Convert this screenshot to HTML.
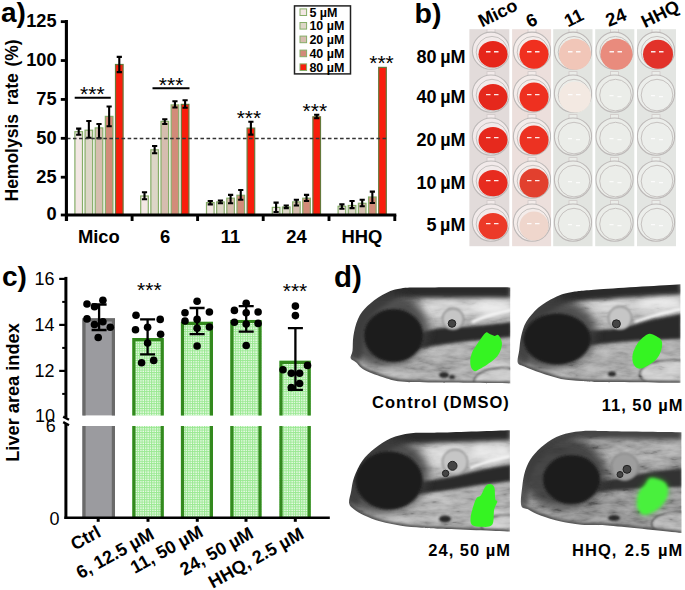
<!DOCTYPE html>
<html><head><meta charset="utf-8"><style>
html,body{margin:0;padding:0;background:#fff;}
svg{display:block;}
text{font-family:"Liberation Sans", sans-serif;}
</style></head><body>
<svg width="685" height="590" viewBox="0 0 685 590" font-family='"Liberation Sans", sans-serif'>
<defs>
<pattern id="grid" width="2.4" height="2.4" patternUnits="userSpaceOnUse">
<rect width="2.4" height="2.4" fill="#f0fcee"/>
<path d="M0 0.5H2.4M0.5 0V2.4" stroke="#98e890" stroke-width="1"/>
</pattern>
<filter id="blur1" x="-20%" y="-20%" width="140%" height="140%"><feGaussianBlur stdDeviation="1.5"/></filter>
<filter id="noise" x="0" y="0" width="100%" height="100%" filterUnits="objectBoundingBox">
<feTurbulence type="fractalNoise" baseFrequency="0.06 0.18" numOctaves="3" seed="7"/>
<feColorMatrix type="saturate" values="0"/>
<feComponentTransfer><feFuncR type="linear" slope="2.2" intercept="-0.6"/><feFuncG type="linear" slope="2.2" intercept="-0.6"/><feFuncB type="linear" slope="2.2" intercept="-0.6"/><feFuncA type="linear" slope="0" intercept="1"/></feComponentTransfer>
</filter>
<filter id="bl05" x="-20%" y="-20%" width="140%" height="140%"><feGaussianBlur stdDeviation="0.5"/></filter>
<filter id="bl1" x="-30%" y="-30%" width="160%" height="160%"><feGaussianBlur stdDeviation="1"/></filter>
<filter id="bl15" x="-30%" y="-30%" width="160%" height="160%"><feGaussianBlur stdDeviation="1.5"/></filter>
<filter id="bl2" x="-30%" y="-30%" width="160%" height="160%"><feGaussianBlur stdDeviation="2"/></filter>
<filter id="bl3" x="-40%" y="-40%" width="180%" height="180%"><feGaussianBlur stdDeviation="3"/></filter>
<filter id="bl4" x="-40%" y="-40%" width="180%" height="180%"><feGaussianBlur stdDeviation="4"/></filter>
</defs>
<text x="1" y="22.3" font-size="28" font-weight="bold" text-anchor="start" fill="#000" >a)</text>
<text transform="translate(17.6,201.5) rotate(-90)" font-size="17.5" font-weight="bold">Hemolysis<tspan dx="3.8"> rate</tspan><tspan dx="1.8"> (%)</tspan></text>
<rect x="74.90" y="131.70" width="7.60" height="83.30" fill="#f3e7e4" stroke="#86ad68" stroke-width="1.2"/>
<path d="M78.70 128.60V134.70M76.10 128.60H81.30M76.10 134.70H81.30" stroke="#000" stroke-width="2.1" fill="none"/>
<rect x="85.05" y="130.20" width="7.60" height="84.80" fill="#ddd6c7" stroke="#86ad68" stroke-width="1.2"/>
<path d="M88.85 121.00V137.80M86.25 121.00H91.45M86.25 137.80H91.45" stroke="#000" stroke-width="2.1" fill="none"/>
<rect x="95.20" y="127.90" width="7.60" height="87.10" fill="#d6bdaf" stroke="#86ad68" stroke-width="1.2"/>
<path d="M99.00 124.00V138.20M96.40 124.00H101.60M96.40 138.20H101.60" stroke="#000" stroke-width="2.1" fill="none"/>
<rect x="105.35" y="116.40" width="7.60" height="98.60" fill="#d28b79" stroke="#86ad68" stroke-width="1.2"/>
<path d="M109.15 106.50V126.30M106.55 106.50H111.75M106.55 126.30H111.75" stroke="#000" stroke-width="2.1" fill="none"/>
<rect x="115.50" y="64.50" width="7.60" height="150.50" fill="#f81e0c" stroke="#65793c" stroke-width="1.2"/>
<path d="M119.30 56.90V72.10M116.70 56.90H121.90M116.70 72.10H121.90" stroke="#000" stroke-width="2.1" fill="none"/>
<rect x="140.70" y="196.00" width="7.60" height="19.00" fill="#f3e7e4" stroke="#86ad68" stroke-width="1.2"/>
<path d="M144.50 192.20V199.30M141.90 192.20H147.10M141.90 199.30H147.10" stroke="#000" stroke-width="2.1" fill="none"/>
<rect x="150.85" y="149.80" width="7.60" height="65.20" fill="#ddd6c7" stroke="#86ad68" stroke-width="1.2"/>
<path d="M154.65 146.00V153.20M152.05 146.00H157.25M152.05 153.20H157.25" stroke="#000" stroke-width="2.1" fill="none"/>
<rect x="161.00" y="121.40" width="7.60" height="93.60" fill="#d6bdaf" stroke="#86ad68" stroke-width="1.2"/>
<path d="M164.80 119.30V124.00M162.20 119.30H167.40M162.20 124.00H167.40" stroke="#000" stroke-width="2.1" fill="none"/>
<rect x="171.15" y="104.90" width="7.60" height="110.10" fill="#d28b79" stroke="#86ad68" stroke-width="1.2"/>
<path d="M174.95 101.20V107.50M172.35 101.20H177.55M172.35 107.50H177.55" stroke="#000" stroke-width="2.1" fill="none"/>
<rect x="181.30" y="104.40" width="7.60" height="110.60" fill="#f81e0c" stroke="#65793c" stroke-width="1.2"/>
<path d="M185.10 100.20V107.80M182.50 100.20H187.70M182.50 107.80H187.70" stroke="#000" stroke-width="2.1" fill="none"/>
<rect x="206.50" y="202.60" width="7.60" height="12.40" fill="#f3e7e4" stroke="#86ad68" stroke-width="1.2"/>
<path d="M210.30 201.00V204.40M207.70 201.00H212.90M207.70 204.40H212.90" stroke="#000" stroke-width="2.1" fill="none"/>
<rect x="216.65" y="201.90" width="7.60" height="13.10" fill="#ddd6c7" stroke="#86ad68" stroke-width="1.2"/>
<path d="M220.45 200.50V203.30M217.85 200.50H223.05M217.85 203.30H223.05" stroke="#000" stroke-width="2.1" fill="none"/>
<rect x="226.80" y="198.20" width="7.60" height="16.80" fill="#d6bdaf" stroke="#86ad68" stroke-width="1.2"/>
<path d="M230.60 194.90V203.30M228.00 194.90H233.20M228.00 203.30H233.20" stroke="#000" stroke-width="2.1" fill="none"/>
<rect x="236.95" y="195.30" width="7.60" height="19.70" fill="#d28b79" stroke="#86ad68" stroke-width="1.2"/>
<path d="M240.75 190.00V199.70M238.15 190.00H243.35M238.15 199.70H243.35" stroke="#000" stroke-width="2.1" fill="none"/>
<rect x="247.10" y="128.10" width="7.60" height="86.90" fill="#f81e0c" stroke="#65793c" stroke-width="1.2"/>
<path d="M250.90 121.70V134.60M248.30 121.70H253.50M248.30 134.60H253.50" stroke="#000" stroke-width="2.1" fill="none"/>
<rect x="272.30" y="207.40" width="7.60" height="7.60" fill="#f3e7e4" stroke="#86ad68" stroke-width="1.2"/>
<path d="M276.10 202.60V212.00M273.50 202.60H278.70M273.50 212.00H278.70" stroke="#000" stroke-width="2.1" fill="none"/>
<rect x="282.45" y="207.00" width="7.60" height="8.00" fill="#ddd6c7" stroke="#86ad68" stroke-width="1.2"/>
<path d="M286.25 205.50V208.10M283.65 205.50H288.85M283.65 208.10H288.85" stroke="#000" stroke-width="2.1" fill="none"/>
<rect x="292.60" y="201.90" width="7.60" height="13.10" fill="#d6bdaf" stroke="#86ad68" stroke-width="1.2"/>
<path d="M296.40 199.70V205.50M293.80 199.70H299.00M293.80 205.50H299.00" stroke="#000" stroke-width="2.1" fill="none"/>
<rect x="302.75" y="198.20" width="7.60" height="16.80" fill="#d28b79" stroke="#86ad68" stroke-width="1.2"/>
<path d="M306.55 194.90V201.00M303.95 194.90H309.15M303.95 201.00H309.15" stroke="#000" stroke-width="2.1" fill="none"/>
<rect x="312.90" y="116.80" width="7.60" height="98.20" fill="#f81e0c" stroke="#65793c" stroke-width="1.2"/>
<path d="M316.70 114.70V118.20M314.10 114.70H319.30M314.10 118.20H319.30" stroke="#000" stroke-width="2.1" fill="none"/>
<rect x="338.10" y="206.30" width="7.60" height="8.70" fill="#f3e7e4" stroke="#86ad68" stroke-width="1.2"/>
<path d="M341.90 204.40V208.80M339.30 204.40H344.50M339.30 208.80H344.50" stroke="#000" stroke-width="2.1" fill="none"/>
<rect x="348.25" y="205.50" width="7.60" height="9.50" fill="#ddd6c7" stroke="#86ad68" stroke-width="1.2"/>
<path d="M352.05 201.00V208.10M349.45 201.00H354.65M349.45 208.10H354.65" stroke="#000" stroke-width="2.1" fill="none"/>
<rect x="358.40" y="203.30" width="7.60" height="11.70" fill="#d6bdaf" stroke="#86ad68" stroke-width="1.2"/>
<path d="M362.20 199.70V206.30M359.60 199.70H364.80M359.60 206.30H364.80" stroke="#000" stroke-width="2.1" fill="none"/>
<rect x="368.55" y="197.00" width="7.60" height="18.00" fill="#d28b79" stroke="#86ad68" stroke-width="1.2"/>
<path d="M372.35 191.60V203.00M369.75 191.60H374.95M369.75 203.00H374.95" stroke="#000" stroke-width="2.1" fill="none"/>
<rect x="378.70" y="67.40" width="7.60" height="147.60" fill="#f81e0c" stroke="#65793c" stroke-width="1.2"/>
<line x1="66.9" y1="138.5" x2="387" y2="138.5" stroke="#333" stroke-width="1.3" stroke-dasharray="3.6 2.47"/>
<path d="M66.4 20V221" stroke="#000" stroke-width="3.1"/>
<path d="M60.8 21.65H66.6" stroke="#000" stroke-width="2.8"/>
<text x="56.6" y="26.95" font-size="18.2" font-weight="bold" text-anchor="end" fill="#000" >125</text>
<path d="M60.8 60.54H66.6" stroke="#000" stroke-width="2.8"/>
<text x="56.6" y="65.84" font-size="18.2" font-weight="bold" text-anchor="end" fill="#000" >100</text>
<path d="M60.8 99.43H66.6" stroke="#000" stroke-width="2.8"/>
<text x="56.6" y="104.73" font-size="18.2" font-weight="bold" text-anchor="end" fill="#000" >75</text>
<path d="M60.8 138.32H66.6" stroke="#000" stroke-width="2.8"/>
<text x="56.6" y="143.62" font-size="18.2" font-weight="bold" text-anchor="end" fill="#000" >50</text>
<path d="M60.8 177.21H66.6" stroke="#000" stroke-width="2.8"/>
<text x="56.6" y="182.51" font-size="18.2" font-weight="bold" text-anchor="end" fill="#000" >25</text>
<path d="M60.8 215.00H66.6" stroke="#000" stroke-width="2.8"/>
<text x="56.6" y="220.30" font-size="18.2" font-weight="bold" text-anchor="end" fill="#000" >0</text>
<path d="M65 215H396.3" stroke="#000" stroke-width="2.9"/>
<path d="M66.6 215V221" stroke="#000" stroke-width="2.9"/>
<path d="M132.1 215V221" stroke="#000" stroke-width="2.9"/>
<path d="M197.6 215V221" stroke="#000" stroke-width="2.9"/>
<path d="M263.2 215V221" stroke="#000" stroke-width="2.9"/>
<path d="M329 215V221" stroke="#000" stroke-width="2.9"/>
<path d="M394.8 215V221" stroke="#000" stroke-width="2.9"/>
<text x="98.9" y="242.6" font-size="18.4" font-weight="bold" text-anchor="middle" fill="#000" >Mico</text>
<text x="165.2" y="242.6" font-size="18.4" font-weight="bold" text-anchor="middle" fill="#000" >6</text>
<text x="230.5" y="242.6" font-size="18.4" font-weight="bold" text-anchor="middle" fill="#000" >11</text>
<text x="296.4" y="242.6" font-size="18.4" font-weight="bold" text-anchor="middle" fill="#000" >24</text>
<text x="362" y="242.6" font-size="18.4" font-weight="bold" text-anchor="middle" fill="#000" >HHQ</text>
<path d="M74.7 97.7H110.8M152.5 88.2H189.5" stroke="#000" stroke-width="2.1"/>
<text x="92.3" y="101.3" font-size="21" font-weight="normal" text-anchor="middle" fill="#000" >***</text>
<text x="171.1" y="91.6" font-size="21" font-weight="normal" text-anchor="middle" fill="#000" >***</text>
<text x="248.9" y="125.0" font-size="21" font-weight="normal" text-anchor="middle" fill="#000" >***</text>
<text x="314.8" y="117.6" font-size="21" font-weight="normal" text-anchor="middle" fill="#000" >***</text>
<text x="381.5" y="70.3" font-size="21" font-weight="normal" text-anchor="middle" fill="#000" >***</text>
<rect x="294.5" y="5.9" width="56" height="68" fill="#fff" stroke="#222" stroke-width="1.5"/>
<rect x="300" y="8.9" width="6.6" height="6.6" fill="#f3e7e4" stroke="#86ad68" stroke-width="1"/>
<text x="309.4" y="16.7" font-size="12.5" font-weight="bold" text-anchor="start" fill="#000" >5 µM</text>
<rect x="300" y="22.5" width="6.6" height="6.6" fill="#ddd6c7" stroke="#86ad68" stroke-width="1"/>
<text x="309.4" y="30.3" font-size="12.5" font-weight="bold" text-anchor="start" fill="#000" >10 µM</text>
<rect x="300" y="36.1" width="6.6" height="6.6" fill="#d6bdaf" stroke="#86ad68" stroke-width="1"/>
<text x="309.4" y="43.9" font-size="12.5" font-weight="bold" text-anchor="start" fill="#000" >20 µM</text>
<rect x="300" y="50.1" width="6.6" height="6.6" fill="#d28b79" stroke="#86ad68" stroke-width="1"/>
<text x="309.4" y="57.9" font-size="12.5" font-weight="bold" text-anchor="start" fill="#000" >40 µM</text>
<rect x="300" y="63.9" width="6.6" height="6.6" fill="#f81e0c" stroke="#86ad68" stroke-width="1"/>
<text x="309.4" y="71.7" font-size="12.5" font-weight="bold" text-anchor="start" fill="#000" >80 µM</text>
<text x="414.5" y="23" font-size="28.5" font-weight="bold" text-anchor="start" fill="#000" >b)</text>
<text transform="translate(482.1,27.5) rotate(-26)" font-size="18" font-weight="bold">Mico</text>
<text transform="translate(529.8,28) rotate(-26)" font-size="18" font-weight="bold">6</text>
<text transform="translate(568,27.5) rotate(-26)" font-size="18" font-weight="bold">11</text>
<text transform="translate(608.7,27.1) rotate(-22)" font-size="18.5" font-weight="bold">24</text>
<text transform="translate(645,28.2) rotate(-26)" font-size="18" font-weight="bold">HHQ</text>
<text x="465.5" y="62.5" font-size="18" font-weight="bold" text-anchor="end" fill="#000" word-spacing="-1.5">80 µM</text>
<text x="465.5" y="102.5" font-size="18" font-weight="bold" text-anchor="end" fill="#000" word-spacing="-1.5">40 µM</text>
<text x="465.5" y="145.5" font-size="18" font-weight="bold" text-anchor="end" fill="#000" word-spacing="-1.5">20 µM</text>
<text x="465.5" y="188.7" font-size="18" font-weight="bold" text-anchor="end" fill="#000" word-spacing="-1.5">10 µM</text>
<text x="465.5" y="231.2" font-size="18" font-weight="bold" text-anchor="end" fill="#000" word-spacing="-1.5">5 µM</text>
<rect x="469.4" y="29.2" width="39.9" height="217" fill="#e2dbda"/>
<clipPath id="sc0"><rect x="469.4" y="29.2" width="39.9" height="217"/></clipPath>
<g clip-path="url(#sc0)">
<rect x="487" y="28.700000000000003" width="8" height="6" fill="#f2eaea" stroke="#cfc9c8" stroke-width="0.8"/>
<circle cx="491" cy="50.7" r="18.6" fill="#f2eaea" stroke="#bdb9b8" stroke-width="1.1"/>
<circle cx="492" cy="52.2" r="15.8" fill="none" stroke="#c6c2c0" stroke-width="1"/>
<ellipse cx="493.0" cy="54.2" rx="14.5" ry="13.2" fill="#e6261a"/>
<path d="M486.0 51.7h4.5M494.0 51.7h4.5" stroke="#fff" stroke-width="1.4" opacity="0.9"/>
<rect x="487" y="71.6" width="8" height="6" fill="#f2eaea" stroke="#cfc9c8" stroke-width="0.8"/>
<circle cx="491" cy="93.6" r="18.6" fill="#f2eaea" stroke="#bdb9b8" stroke-width="1.1"/>
<circle cx="492" cy="95.1" r="15.8" fill="none" stroke="#c6c2c0" stroke-width="1"/>
<ellipse cx="493.0" cy="97.1" rx="14.5" ry="13.2" fill="#e5281c"/>
<path d="M486.0 94.6h4.5M494.0 94.6h4.5" stroke="#fff" stroke-width="1.4" opacity="0.9"/>
<rect x="487" y="114.6" width="8" height="6" fill="#f2eaea" stroke="#cfc9c8" stroke-width="0.8"/>
<circle cx="491" cy="136.6" r="18.6" fill="#f2eaea" stroke="#bdb9b8" stroke-width="1.1"/>
<circle cx="492" cy="138.1" r="15.8" fill="none" stroke="#c6c2c0" stroke-width="1"/>
<ellipse cx="493.0" cy="140.1" rx="14.5" ry="13.2" fill="#e6291d"/>
<path d="M486.0 137.6h4.5M494.0 137.6h4.5" stroke="#fff" stroke-width="1.4" opacity="0.9"/>
<rect x="487" y="157.6" width="8" height="6" fill="#f2eaea" stroke="#cfc9c8" stroke-width="0.8"/>
<circle cx="491" cy="179.6" r="18.6" fill="#f2eaea" stroke="#bdb9b8" stroke-width="1.1"/>
<circle cx="492" cy="181.1" r="15.8" fill="none" stroke="#c6c2c0" stroke-width="1"/>
<ellipse cx="493.0" cy="183.1" rx="14.5" ry="13.2" fill="#e72b1f"/>
<path d="M486.0 180.6h4.5M494.0 180.6h4.5" stroke="#fff" stroke-width="1.4" opacity="0.9"/>
<rect x="487" y="200.6" width="8" height="6" fill="#f2eaea" stroke="#cfc9c8" stroke-width="0.8"/>
<circle cx="491" cy="222.6" r="18.6" fill="#f2eaea" stroke="#bdb9b8" stroke-width="1.1"/>
<circle cx="492" cy="224.1" r="15.8" fill="none" stroke="#c6c2c0" stroke-width="1"/>
<ellipse cx="493.0" cy="226.1" rx="14.5" ry="13.2" fill="#ec3a28"/>
<path d="M486.0 223.6h4.5M494.0 223.6h4.5" stroke="#fff" stroke-width="1.4" opacity="0.9"/>
</g>
<rect x="512.1" y="29.2" width="39.0" height="217" fill="#ecdfdc"/>
<clipPath id="sc1"><rect x="512.1" y="29.2" width="39.0" height="217"/></clipPath>
<g clip-path="url(#sc1)">
<rect x="528" y="28.700000000000003" width="8" height="6" fill="#f4ecea" stroke="#cfc9c8" stroke-width="0.8"/>
<circle cx="532" cy="50.7" r="18.6" fill="#f4ecea" stroke="#bdb9b8" stroke-width="1.1"/>
<circle cx="533" cy="52.2" r="15.8" fill="none" stroke="#c6c2c0" stroke-width="1"/>
<ellipse cx="534.0" cy="54.2" rx="14.5" ry="14.5" fill="#f0301f"/>
<path d="M527.0 51.7h4.5M535.0 51.7h4.5" stroke="#fff" stroke-width="1.4" opacity="0.9"/>
<rect x="528" y="71.6" width="8" height="6" fill="#f4ecea" stroke="#cfc9c8" stroke-width="0.8"/>
<circle cx="532" cy="93.6" r="18.6" fill="#f4ecea" stroke="#bdb9b8" stroke-width="1.1"/>
<circle cx="533" cy="95.1" r="15.8" fill="none" stroke="#c6c2c0" stroke-width="1"/>
<ellipse cx="534.0" cy="97.1" rx="14.5" ry="14.5" fill="#ee3020"/>
<path d="M527.0 94.6h4.5M535.0 94.6h4.5" stroke="#fff" stroke-width="1.4" opacity="0.9"/>
<rect x="528" y="114.6" width="8" height="6" fill="#f4ecea" stroke="#cfc9c8" stroke-width="0.8"/>
<circle cx="532" cy="136.6" r="18.6" fill="#f4ecea" stroke="#bdb9b8" stroke-width="1.1"/>
<circle cx="533" cy="138.1" r="15.8" fill="none" stroke="#c6c2c0" stroke-width="1"/>
<ellipse cx="534.0" cy="140.1" rx="14.5" ry="14.5" fill="#ec3222"/>
<path d="M527.0 137.6h4.5M535.0 137.6h4.5" stroke="#fff" stroke-width="1.4" opacity="0.9"/>
<rect x="528" y="157.6" width="8" height="6" fill="#f4ecea" stroke="#cfc9c8" stroke-width="0.8"/>
<circle cx="532" cy="179.6" r="18.6" fill="#f4ecea" stroke="#bdb9b8" stroke-width="1.1"/>
<circle cx="533" cy="181.1" r="15.8" fill="none" stroke="#c6c2c0" stroke-width="1"/>
<ellipse cx="534.0" cy="183.1" rx="14.5" ry="14.5" fill="#e2402e"/>
<path d="M527.0 180.6h4.5M535.0 180.6h4.5" stroke="#fff" stroke-width="1.4" opacity="0.9"/>
<rect x="528" y="200.6" width="8" height="6" fill="#f4ecea" stroke="#cfc9c8" stroke-width="0.8"/>
<circle cx="532" cy="222.6" r="18.6" fill="#f4ecea" stroke="#bdb9b8" stroke-width="1.1"/>
<circle cx="533" cy="224.1" r="15.8" fill="none" stroke="#c6c2c0" stroke-width="1"/>
<ellipse cx="534.0" cy="226.1" rx="14.5" ry="14.5" fill="#efd6cc"/>
<path d="M527.0 223.6h4.5M535.0 223.6h4.5" stroke="#fff" stroke-width="1.4" opacity="0.9"/>
</g>
<rect x="553.2" y="29.2" width="39.3" height="217" fill="#e2e4e0"/>
<clipPath id="sc2"><rect x="553.2" y="29.2" width="39.3" height="217"/></clipPath>
<g clip-path="url(#sc2)">
<rect x="569" y="28.700000000000003" width="8" height="6" fill="#ebede9" stroke="#cfc9c8" stroke-width="0.8"/>
<circle cx="573" cy="50.7" r="18.6" fill="#ebede9" stroke="#bdb9b8" stroke-width="1.1"/>
<circle cx="574" cy="52.2" r="15.8" fill="none" stroke="#c6c2c0" stroke-width="1"/>
<ellipse cx="575.0" cy="54.2" rx="16" ry="15.5" fill="#f1c6b8"/>
<path d="M568.0 51.7h4.5M576.0 51.7h4.5" stroke="#fff" stroke-width="1.4" opacity="0.9"/>
<rect x="569" y="71.6" width="8" height="6" fill="#ebede9" stroke="#cfc9c8" stroke-width="0.8"/>
<circle cx="573" cy="93.6" r="18.6" fill="#ebede9" stroke="#bdb9b8" stroke-width="1.1"/>
<circle cx="574" cy="95.1" r="15.8" fill="none" stroke="#c6c2c0" stroke-width="1"/>
<ellipse cx="575.0" cy="97.1" rx="16" ry="15.5" fill="#f3e9e2"/>
<path d="M568.0 94.6h4.5M576.0 94.6h4.5" stroke="#fff" stroke-width="1.4" opacity="0.9"/>
<rect x="569" y="114.6" width="8" height="6" fill="#ebede9" stroke="#cfc9c8" stroke-width="0.8"/>
<circle cx="573" cy="136.6" r="18.6" fill="#ebede9" stroke="#bdb9b8" stroke-width="1.1"/>
<circle cx="574" cy="138.1" r="15.8" fill="none" stroke="#c6c2c0" stroke-width="1"/>
<path d="M568.0 138.6h4M576.0 139.6h4" stroke="#fff" stroke-width="1.2" opacity="0.8"/>
<rect x="569" y="157.6" width="8" height="6" fill="#ebede9" stroke="#cfc9c8" stroke-width="0.8"/>
<circle cx="573" cy="179.6" r="18.6" fill="#ebede9" stroke="#bdb9b8" stroke-width="1.1"/>
<circle cx="574" cy="181.1" r="15.8" fill="none" stroke="#c6c2c0" stroke-width="1"/>
<path d="M568.0 181.6h4M576.0 182.6h4" stroke="#fff" stroke-width="1.2" opacity="0.8"/>
<rect x="569" y="200.6" width="8" height="6" fill="#ebede9" stroke="#cfc9c8" stroke-width="0.8"/>
<circle cx="573" cy="222.6" r="18.6" fill="#ebede9" stroke="#bdb9b8" stroke-width="1.1"/>
<circle cx="574" cy="224.1" r="15.8" fill="none" stroke="#c6c2c0" stroke-width="1"/>
<path d="M568.0 224.6h4M576.0 225.6h4" stroke="#fff" stroke-width="1.2" opacity="0.8"/>
</g>
<rect x="595.2" y="29.2" width="39.1" height="217" fill="#e2e5e1"/>
<clipPath id="sc3"><rect x="595.2" y="29.2" width="39.1" height="217"/></clipPath>
<g clip-path="url(#sc3)">
<rect x="610.5" y="28.700000000000003" width="8" height="6" fill="#ebede9" stroke="#cfc9c8" stroke-width="0.8"/>
<circle cx="614.5" cy="50.7" r="18.6" fill="#ebede9" stroke="#bdb9b8" stroke-width="1.1"/>
<circle cx="615.5" cy="52.2" r="15.8" fill="none" stroke="#c6c2c0" stroke-width="1"/>
<ellipse cx="616.5" cy="54.2" rx="16" ry="15.5" fill="#e98b7d"/>
<path d="M609.5 51.7h4.5M617.5 51.7h4.5" stroke="#fff" stroke-width="1.4" opacity="0.9"/>
<rect x="610.5" y="71.6" width="8" height="6" fill="#ebede9" stroke="#cfc9c8" stroke-width="0.8"/>
<circle cx="614.5" cy="93.6" r="18.6" fill="#ebede9" stroke="#bdb9b8" stroke-width="1.1"/>
<circle cx="615.5" cy="95.1" r="15.8" fill="none" stroke="#c6c2c0" stroke-width="1"/>
<path d="M609.5 95.6h4M617.5 96.6h4" stroke="#fff" stroke-width="1.2" opacity="0.8"/>
<rect x="610.5" y="114.6" width="8" height="6" fill="#ebede9" stroke="#cfc9c8" stroke-width="0.8"/>
<circle cx="614.5" cy="136.6" r="18.6" fill="#ebede9" stroke="#bdb9b8" stroke-width="1.1"/>
<circle cx="615.5" cy="138.1" r="15.8" fill="none" stroke="#c6c2c0" stroke-width="1"/>
<path d="M609.5 138.6h4M617.5 139.6h4" stroke="#fff" stroke-width="1.2" opacity="0.8"/>
<rect x="610.5" y="157.6" width="8" height="6" fill="#ebede9" stroke="#cfc9c8" stroke-width="0.8"/>
<circle cx="614.5" cy="179.6" r="18.6" fill="#ebede9" stroke="#bdb9b8" stroke-width="1.1"/>
<circle cx="615.5" cy="181.1" r="15.8" fill="none" stroke="#c6c2c0" stroke-width="1"/>
<path d="M609.5 181.6h4M617.5 182.6h4" stroke="#fff" stroke-width="1.2" opacity="0.8"/>
<rect x="610.5" y="200.6" width="8" height="6" fill="#ebede9" stroke="#cfc9c8" stroke-width="0.8"/>
<circle cx="614.5" cy="222.6" r="18.6" fill="#ebede9" stroke="#bdb9b8" stroke-width="1.1"/>
<circle cx="615.5" cy="224.1" r="15.8" fill="none" stroke="#c6c2c0" stroke-width="1"/>
<path d="M609.5 224.6h4M617.5 225.6h4" stroke="#fff" stroke-width="1.2" opacity="0.8"/>
</g>
<rect x="637" y="29.2" width="39.0" height="217" fill="#e3e5e2"/>
<clipPath id="sc4"><rect x="637" y="29.2" width="39.0" height="217"/></clipPath>
<g clip-path="url(#sc4)">
<rect x="652" y="28.700000000000003" width="8" height="6" fill="#eceeeb" stroke="#cfc9c8" stroke-width="0.8"/>
<circle cx="656" cy="50.7" r="18.6" fill="#eceeeb" stroke="#bdb9b8" stroke-width="1.1"/>
<circle cx="657" cy="52.2" r="15.8" fill="none" stroke="#c6c2c0" stroke-width="1"/>
<ellipse cx="658.0" cy="54.2" rx="15" ry="14.5" fill="#e2322a"/>
<path d="M651.0 51.7h4.5M659.0 51.7h4.5" stroke="#fff" stroke-width="1.4" opacity="0.9"/>
<rect x="652" y="71.6" width="8" height="6" fill="#eceeeb" stroke="#cfc9c8" stroke-width="0.8"/>
<circle cx="656" cy="93.6" r="18.6" fill="#eceeeb" stroke="#bdb9b8" stroke-width="1.1"/>
<circle cx="657" cy="95.1" r="15.8" fill="none" stroke="#c6c2c0" stroke-width="1"/>
<path d="M651.0 95.6h4M659.0 96.6h4" stroke="#fff" stroke-width="1.2" opacity="0.8"/>
<rect x="652" y="114.6" width="8" height="6" fill="#eceeeb" stroke="#cfc9c8" stroke-width="0.8"/>
<circle cx="656" cy="136.6" r="18.6" fill="#eceeeb" stroke="#bdb9b8" stroke-width="1.1"/>
<circle cx="657" cy="138.1" r="15.8" fill="none" stroke="#c6c2c0" stroke-width="1"/>
<path d="M651.0 138.6h4M659.0 139.6h4" stroke="#fff" stroke-width="1.2" opacity="0.8"/>
<rect x="652" y="157.6" width="8" height="6" fill="#eceeeb" stroke="#cfc9c8" stroke-width="0.8"/>
<circle cx="656" cy="179.6" r="18.6" fill="#eceeeb" stroke="#bdb9b8" stroke-width="1.1"/>
<circle cx="657" cy="181.1" r="15.8" fill="none" stroke="#c6c2c0" stroke-width="1"/>
<path d="M651.0 181.6h4M659.0 182.6h4" stroke="#fff" stroke-width="1.2" opacity="0.8"/>
<rect x="652" y="200.6" width="8" height="6" fill="#eceeeb" stroke="#cfc9c8" stroke-width="0.8"/>
<circle cx="656" cy="222.6" r="18.6" fill="#eceeeb" stroke="#bdb9b8" stroke-width="1.1"/>
<circle cx="657" cy="224.1" r="15.8" fill="none" stroke="#c6c2c0" stroke-width="1"/>
<path d="M651.0 224.6h4M659.0 225.6h4" stroke="#fff" stroke-width="1.2" opacity="0.8"/>
</g>
<text x="2" y="285.5" font-size="28" font-weight="bold" text-anchor="start" fill="#000" >c)</text>
<text transform="translate(19.3,392.5) rotate(-90)" font-size="18.2" font-weight="bold" text-anchor="middle">Liver area index</text>
<rect x="82.4" y="318.3" width="32.6" height="97.1" fill="#9b9b9f"/>
<rect x="82.4" y="426" width="32.6" height="91.5" fill="#9b9b9f"/>
<path d="M84.00 415.4V319.90H113.40V415.4M84.00 426V517.5M113.40 426V517.5" fill="none" stroke="#6a6a6a" stroke-width="3.2"/>
<rect x="132.3" y="338.1" width="31.5" height="77.3" fill="url(#grid)"/>
<rect x="132.3" y="426" width="31.5" height="91.5" fill="url(#grid)"/>
<path d="M133.90 415.4V339.70H162.20V415.4M133.90 426V517.5M162.20 426V517.5" fill="none" stroke="#33891e" stroke-width="3.2"/>
<rect x="180.9" y="321.8" width="32.1" height="93.6" fill="url(#grid)"/>
<rect x="180.9" y="426" width="32.1" height="91.5" fill="url(#grid)"/>
<path d="M182.50 415.4V323.40H211.40V415.4M182.50 426V517.5M211.40 426V517.5" fill="none" stroke="#33891e" stroke-width="3.2"/>
<rect x="230.3" y="319.9" width="31.3" height="95.5" fill="url(#grid)"/>
<rect x="230.3" y="426" width="31.3" height="91.5" fill="url(#grid)"/>
<path d="M231.90 415.4V321.50H260.00V415.4M231.90 426V517.5M260.00 426V517.5" fill="none" stroke="#33891e" stroke-width="3.2"/>
<rect x="279.4" y="360.7" width="31.4" height="54.7" fill="url(#grid)"/>
<rect x="279.4" y="426" width="31.4" height="91.5" fill="url(#grid)"/>
<path d="M281.00 415.4V362.30H309.20V415.4M281.00 426V517.5M309.20 426V517.5" fill="none" stroke="#33891e" stroke-width="3.2"/>
<path d="M99.1 304.5V330M91.6 304.5H106.6M91.6 330H106.6" stroke="#000" stroke-width="2.3" fill="none"/>
<path d="M147.6 319.4V354.3M140.1 319.4H155.1M140.1 354.3H155.1" stroke="#000" stroke-width="2.3" fill="none"/>
<path d="M197.1 308V334.1M189.6 308H204.6M189.6 334.1H204.6" stroke="#000" stroke-width="2.3" fill="none"/>
<path d="M246.2 306.1V331.7M238.7 306.1H253.7M238.7 331.7H253.7" stroke="#000" stroke-width="2.3" fill="none"/>
<path d="M295.4 328.2V389.9M287.9 328.2H302.9M287.9 389.9H302.9" stroke="#000" stroke-width="2.3" fill="none"/>
<circle cx="87" cy="304" r="3.8" fill="#000"/>
<circle cx="102.9" cy="300.2" r="3.8" fill="#000"/>
<circle cx="94.5" cy="306.8" r="3.8" fill="#000"/>
<circle cx="87" cy="318.9" r="3.8" fill="#000"/>
<circle cx="94.5" cy="324.5" r="3.8" fill="#000"/>
<circle cx="102.9" cy="321.7" r="3.8" fill="#000"/>
<circle cx="110.3" cy="327.3" r="3.8" fill="#000"/>
<circle cx="98.2" cy="337.5" r="3.8" fill="#000"/>
<circle cx="136" cy="315.2" r="3.8" fill="#000"/>
<circle cx="160.2" cy="319.4" r="3.8" fill="#000"/>
<circle cx="147.6" cy="327.3" r="3.8" fill="#000"/>
<circle cx="135.5" cy="329.7" r="3.8" fill="#000"/>
<circle cx="160.6" cy="334.3" r="3.8" fill="#000"/>
<circle cx="147.6" cy="343.1" r="3.8" fill="#000"/>
<circle cx="141.6" cy="362.7" r="3.8" fill="#000"/>
<circle cx="153.7" cy="360.4" r="3.8" fill="#000"/>
<circle cx="197.1" cy="301.3" r="3.8" fill="#000"/>
<circle cx="185" cy="312.7" r="3.8" fill="#000"/>
<circle cx="209.4" cy="312" r="3.8" fill="#000"/>
<circle cx="197.1" cy="319.4" r="3.8" fill="#000"/>
<circle cx="185" cy="321" r="3.8" fill="#000"/>
<circle cx="209.4" cy="327" r="3.8" fill="#000"/>
<circle cx="197.1" cy="328.2" r="3.8" fill="#000"/>
<circle cx="197.1" cy="346" r="3.8" fill="#000"/>
<circle cx="246.2" cy="303.2" r="3.8" fill="#000"/>
<circle cx="234.4" cy="310.4" r="3.8" fill="#000"/>
<circle cx="258.1" cy="312" r="3.8" fill="#000"/>
<circle cx="246.2" cy="312.7" r="3.8" fill="#000"/>
<circle cx="234.4" cy="322.2" r="3.8" fill="#000"/>
<circle cx="246.2" cy="324.1" r="3.8" fill="#000"/>
<circle cx="258.1" cy="323.4" r="3.8" fill="#000"/>
<circle cx="246.2" cy="345.5" r="3.8" fill="#000"/>
<circle cx="295.4" cy="306.1" r="3.8" fill="#000"/>
<circle cx="295.4" cy="315.6" r="3.8" fill="#000"/>
<circle cx="283" cy="369.7" r="3.8" fill="#000"/>
<circle cx="307.5" cy="365.4" r="3.8" fill="#000"/>
<circle cx="291.3" cy="373.3" r="3.8" fill="#000"/>
<circle cx="299.6" cy="373.3" r="3.8" fill="#000"/>
<circle cx="299.6" cy="383.5" r="3.8" fill="#000"/>
<circle cx="291.3" cy="387.5" r="3.8" fill="#000"/>
<path d="M65.9 276.9V417.5" stroke="#000" stroke-width="3" fill="none"/>
<path d="M63.2 416.6L69 419.8M63.2 422.1L69 425.3" stroke="#000" stroke-width="2.4" fill="none"/>
<path d="M65.9 424V518.9" stroke="#000" stroke-width="3" fill="none"/>
<path d="M59.2 278.9H65.9" stroke="#000" stroke-width="2.2"/>
<text x="54.6" y="285.3" font-size="18" font-weight="normal" text-anchor="end" fill="#000" >16</text>
<path d="M59.2 324.9H65.9" stroke="#000" stroke-width="2.2"/>
<text x="54.6" y="331.3" font-size="18" font-weight="normal" text-anchor="end" fill="#000" >14</text>
<path d="M59.2 370.9H65.9" stroke="#000" stroke-width="2.2"/>
<text x="54.6" y="377.3" font-size="18" font-weight="normal" text-anchor="end" fill="#000" >12</text>
<path d="M62.2 301.9H65.9" stroke="#000" stroke-width="2"/>
<path d="M62.2 347.9H65.9" stroke="#000" stroke-width="2"/>
<path d="M62.2 393.9H65.9" stroke="#000" stroke-width="2"/>
<text x="55" y="421.5" font-size="18" font-weight="normal" text-anchor="end" fill="#000" >10</text>
<text x="55.7" y="432" font-size="18" font-weight="normal" text-anchor="end" fill="#000" >6</text>
<text x="59.5" y="524.5" font-size="18" font-weight="normal" text-anchor="end" fill="#000" >0</text>
<path d="M64.4 517.7H329.8" stroke="#000" stroke-width="2.5"/>
<path d="M98.2 517.7V521.8" stroke="#000" stroke-width="3"/>
<path d="M148 517.7V521.8" stroke="#000" stroke-width="3"/>
<path d="M197.3 517.7V521.8" stroke="#000" stroke-width="3"/>
<path d="M246 517.7V521.8" stroke="#000" stroke-width="3"/>
<path d="M295.3 517.7V521.8" stroke="#000" stroke-width="3"/>
<text transform="translate(102.0,535.7) rotate(-29)" font-size="18" font-weight="bold" text-anchor="end">Ctrl</text>
<text transform="translate(155.3,537.9) rotate(-29)" font-size="18" font-weight="bold" text-anchor="end">6, 12.5 µM</text>
<text transform="translate(204.3,535.4) rotate(-29)" font-size="18" font-weight="bold" text-anchor="end">11, 50 µM</text>
<text transform="translate(254.7,537.0) rotate(-29)" font-size="18" font-weight="bold" text-anchor="end">24, 50 µM</text>
<text transform="translate(305.0,537.6) rotate(-29)" font-size="18" font-weight="bold" text-anchor="end">HHQ, 2.5 µM</text>
<text x="149.3" y="297.1" font-size="21" font-weight="normal" text-anchor="middle" fill="#000" >***</text>
<text x="295.0" y="298.0" font-size="21" font-weight="normal" text-anchor="middle" fill="#000" >***</text>
<text x="334" y="286.5" font-size="29.5" font-weight="bold" text-anchor="start" fill="#000" >d)</text>
<linearGradient id="rg1" gradientUnits="userSpaceOnUse" x1="350.6" y1="0" x2="395.6" y2="0"><stop offset="0" stop-color="#4a4a4a"/><stop offset="1" stop-color="#2c2c2c"/></linearGradient>
<clipPath id="fc1"><path d="M510.3 287.4 C497.8 287.4 453.2 287.3 435.0 287.5 C416.8 287.7 409.7 287.2 400.9 288.4 C392.1 289.6 387.9 291.9 382.3 294.9 C376.7 297.8 371.4 302.1 367.4 306.1 C363.3 310.1 360.3 314.0 358.0 319.0 C355.7 324.0 354.3 330.6 353.4 335.9 C352.5 341.2 353.0 347.1 352.5 350.8 C352.0 354.5 350.0 356.4 350.6 358.3 C351.2 360.2 354.0 360.6 356.2 362.5 C358.4 364.4 359.2 367.0 363.6 369.4 C368.0 371.8 376.1 374.9 382.3 376.9 C388.5 378.9 392.1 380.6 400.9 381.5 C409.7 382.4 416.8 382.2 435.0 382.5 C453.2 382.8 497.8 383.2 510.3 383.4 Z"/></clipPath>
<g clip-path="url(#fc1)">
<path d="M510.3 287.4 C497.8 287.4 453.2 287.3 435.0 287.5 C416.8 287.7 409.7 287.2 400.9 288.4 C392.1 289.6 387.9 291.9 382.3 294.9 C376.7 297.8 371.4 302.1 367.4 306.1 C363.3 310.1 360.3 314.0 358.0 319.0 C355.7 324.0 354.3 330.6 353.4 335.9 C352.5 341.2 353.0 347.1 352.5 350.8 C352.0 354.5 350.0 356.4 350.6 358.3 C351.2 360.2 354.0 360.6 356.2 362.5 C358.4 364.4 359.2 367.0 363.6 369.4 C368.0 371.8 376.1 374.9 382.3 376.9 C388.5 378.9 392.1 380.6 400.9 381.5 C409.7 382.4 416.8 382.2 435.0 382.5 C453.2 382.8 497.8 383.2 510.3 383.4 Z" fill="#a2a2a2"/>
<ellipse cx="445" cy="309" rx="28" ry="11" fill="#cecece" opacity="1" filter="url(#bl4)"/>
<ellipse cx="490" cy="307" rx="24" ry="10" fill="#e4e4e4" opacity="1" filter="url(#bl4)"/>
<ellipse cx="496" cy="372" rx="16" ry="9" fill="#dcdcdc" opacity="1" filter="url(#bl4)"/>
<ellipse cx="425" cy="358" rx="20" ry="9" fill="#bdbdbd" opacity="0.9" filter="url(#bl4)"/>
<ellipse cx="395" cy="370" rx="20" ry="6" fill="#b4b4b4" opacity="0.8" filter="url(#bl4)"/>
<ellipse cx="410" cy="298" rx="10" ry="5" fill="#444" opacity="0.7" filter="url(#bl3)"/>
<ellipse cx="430" cy="364" rx="32" ry="9" fill="#8a8a8a" opacity="0.6" filter="url(#bl3)"/>
<ellipse cx="502" cy="382" rx="28" ry="14" fill="#c6c6c6" stroke="#4a4a4a" stroke-width="2.2" filter="url(#bl1)"/>
<rect x="350.6" y="287.4" width="159.7" height="96.0" filter="url(#noise)" opacity="0.3" style="mix-blend-mode:overlay"/>
<path d="M472.0 322.0 C475.0 320.8 483.5 317.0 490.0 315.0 C496.5 313.0 507.5 310.8 511.0 310.0" fill="none" stroke="#f4f4f4" stroke-width="3" filter="url(#bl1)"/>
<path d="M510.3 287.4 C497.8 287.4 453.2 287.3 435.0 287.5 C416.8 287.7 409.7 287.2 400.9 288.4 C392.1 289.6 387.9 291.9 382.3 294.9 C376.7 297.8 371.4 302.1 367.4 306.1 C363.3 310.1 360.3 314.0 358.0 319.0 C355.7 324.0 354.3 330.6 353.4 335.9 C352.5 341.2 353.0 347.1 352.5 350.8 C352.0 354.5 350.9 357.1 350.6 358.3" fill="none" stroke="url(#rg1)" stroke-width="20" filter="url(#bl2)"/>
<path d="M350.6 358.3 C351.5 359.0 354.0 360.6 356.2 362.5 C358.4 364.4 359.2 367.0 363.6 369.4 C368.0 371.8 376.1 374.9 382.3 376.9 C388.5 378.9 392.1 380.6 400.9 381.5 C409.7 382.4 416.8 382.2 435.0 382.5 C453.2 382.8 497.8 383.2 510.3 383.4" fill="none" stroke="#555" stroke-width="4" filter="url(#bl1)"/>
<path d="M415.0 334.0 C419.2 333.0 430.8 329.2 440.0 328.0 C449.2 326.8 458.2 327.5 470.0 326.5 C481.8 325.5 504.2 322.8 511.0 322.0 L511.0 337.0 C504.2 337.7 481.8 339.7 470.0 341.0 C458.2 342.3 449.2 343.7 440.0 345.0 C430.8 346.3 419.2 348.3 415.0 349.0Z" fill="#2a2a2a" filter="url(#bl15)"/>
<circle cx="453" cy="319" r="10.5" fill="#c6c6c6" stroke="#858585" stroke-width="1.3" filter="url(#bl1)"/>
<circle cx="452" cy="323.5" r="3.8" fill="#444" stroke="#222" stroke-width="1" filter="url(#bl05)"/>
<ellipse cx="385.5" cy="329.5" rx="43.5" ry="36.5" fill="#3e3e3e" opacity="0.85" filter="url(#bl4)"/>
<ellipse cx="393.5" cy="335.5" rx="29.5" ry="26.5" fill="#1e1e1e" filter="url(#bl1)"/>
<ellipse cx="444" cy="375" rx="5" ry="3" fill="#2a2a2a" filter="url(#bl1)"/>
<ellipse cx="452" cy="377" rx="3" ry="2" fill="#2a2a2a" filter="url(#bl1)"/>
<path d="M486.1 332.5 C487.5 331.9 488.4 333.4 489.8 334.0 C491.2 334.6 493.1 335.7 494.5 335.9 C495.9 336.1 497.1 334.4 498.2 335.0 C499.3 335.6 500.4 337.9 501.0 339.6 C501.6 341.3 502.2 342.9 501.9 345.2 C501.6 347.5 500.3 351.3 499.1 353.6 C497.9 355.9 496.5 357.2 494.5 359.1 C492.5 361.0 489.5 363.1 487.0 364.7 C484.5 366.3 481.6 367.9 479.6 369.0 C477.6 370.1 476.3 371.4 474.9 371.2 C473.5 370.9 472.0 369.4 471.2 367.5 C470.4 365.6 470.1 362.6 470.3 360.1 C470.5 357.6 471.2 354.9 472.1 352.6 C473.0 350.3 474.3 348.6 475.9 346.1 C477.5 343.6 479.8 340.0 481.5 337.7 C483.2 335.4 484.7 333.1 486.1 332.5Z" fill="#36f423" filter="url(#bl05)"/>
</g>
<linearGradient id="rg2" gradientUnits="userSpaceOnUse" x1="517.7" y1="0" x2="562.7" y2="0"><stop offset="0" stop-color="#666"/><stop offset="1" stop-color="#2c2c2c"/></linearGradient>
<clipPath id="fc2"><path d="M680.5 284.2 C667.1 285.1 618.2 287.9 600.0 289.3 C581.8 290.7 578.6 291.0 571.1 292.3 C563.6 293.6 560.2 294.8 554.8 297.4 C549.4 299.9 543.2 303.5 538.5 307.6 C533.8 311.7 529.2 317.1 526.3 321.8 C523.4 326.6 522.4 331.3 521.2 336.1 C520.0 340.9 519.8 346.0 519.2 350.4 C518.6 354.8 516.9 359.9 517.7 362.6 C518.6 365.3 520.5 364.9 524.3 366.6 C528.1 368.3 534.4 370.8 540.5 372.8 C546.6 374.9 554.1 377.5 560.9 378.9 C567.7 380.2 574.8 380.4 581.3 380.9 C587.8 381.4 583.5 381.6 600.0 381.9 C616.5 382.2 667.1 382.6 680.5 382.8 Z"/></clipPath>
<g clip-path="url(#fc2)">
<path d="M680.5 284.2 C667.1 285.1 618.2 287.9 600.0 289.3 C581.8 290.7 578.6 291.0 571.1 292.3 C563.6 293.6 560.2 294.8 554.8 297.4 C549.4 299.9 543.2 303.5 538.5 307.6 C533.8 311.7 529.2 317.1 526.3 321.8 C523.4 326.6 522.4 331.3 521.2 336.1 C520.0 340.9 519.8 346.0 519.2 350.4 C518.6 354.8 516.9 359.9 517.7 362.6 C518.6 365.3 520.5 364.9 524.3 366.6 C528.1 368.3 534.4 370.8 540.5 372.8 C546.6 374.9 554.1 377.5 560.9 378.9 C567.7 380.2 574.8 380.4 581.3 380.9 C587.8 381.4 583.5 381.6 600.0 381.9 C616.5 382.2 667.1 382.6 680.5 382.8 Z" fill="#a2a2a2"/>
<ellipse cx="612" cy="305" rx="28" ry="11" fill="#cecece" opacity="1" filter="url(#bl4)"/>
<ellipse cx="660" cy="303" rx="24" ry="10" fill="#e4e4e4" opacity="1" filter="url(#bl4)"/>
<ellipse cx="666" cy="370" rx="17" ry="9" fill="#dcdcdc" opacity="1" filter="url(#bl4)"/>
<ellipse cx="595" cy="360" rx="20" ry="9" fill="#bdbdbd" opacity="0.9" filter="url(#bl4)"/>
<ellipse cx="560" cy="372" rx="20" ry="6" fill="#b4b4b4" opacity="0.8" filter="url(#bl4)"/>
<ellipse cx="598" cy="293" rx="16" ry="5" fill="#333" opacity="0.7" filter="url(#bl3)"/>
<ellipse cx="595" cy="362" rx="35" ry="9" fill="#8a8a8a" opacity="0.6" filter="url(#bl3)"/>
<ellipse cx="672" cy="374" rx="32" ry="14" fill="#c6c6c6" stroke="#4a4a4a" stroke-width="2.2" filter="url(#bl1)"/>
<rect x="517.7" y="284.2" width="162.8" height="98.6" filter="url(#noise)" opacity="0.3" style="mix-blend-mode:overlay"/>
<path d="M635.0 322.0 C639.2 320.7 652.3 316.2 660.0 314.0 C667.7 311.8 677.5 309.8 681.0 309.0" fill="none" stroke="#f4f4f4" stroke-width="3" filter="url(#bl1)"/>
<path d="M680.5 284.2 C667.1 285.1 618.2 287.9 600.0 289.3 C581.8 290.7 578.6 291.0 571.1 292.3 C563.6 293.6 560.2 294.8 554.8 297.4 C549.4 299.9 543.2 303.5 538.5 307.6 C533.8 311.7 529.2 317.1 526.3 321.8 C523.4 326.6 522.4 331.3 521.2 336.1 C520.0 340.9 519.8 346.0 519.2 350.4 C518.6 354.8 518.0 360.6 517.7 362.6" fill="none" stroke="url(#rg2)" stroke-width="20" filter="url(#bl2)"/>
<path d="M517.7 362.6 C518.8 363.3 520.5 364.9 524.3 366.6 C528.1 368.3 534.4 370.8 540.5 372.8 C546.6 374.9 554.1 377.5 560.9 378.9 C567.7 380.2 574.8 380.4 581.3 380.9 C587.8 381.4 583.5 381.6 600.0 381.9 C616.5 382.2 667.1 382.6 680.5 382.8" fill="none" stroke="#555" stroke-width="4" filter="url(#bl1)"/>
<path d="M585.0 331.0 C590.8 330.5 609.2 329.8 620.0 328.0 C630.8 326.2 639.8 322.3 650.0 320.0 C660.2 317.7 675.8 315.0 681.0 314.0 L681.0 339.0 C675.8 339.2 660.2 339.5 650.0 340.0 C639.8 340.5 630.8 341.0 620.0 342.0 C609.2 343.0 590.8 345.3 585.0 346.0Z" fill="#2a2a2a" filter="url(#bl15)"/>
<circle cx="620" cy="318" r="11.5" fill="#c6c6c6" stroke="#858585" stroke-width="1.3" filter="url(#bl1)"/>
<circle cx="616.4" cy="323.8" r="4" fill="#444" stroke="#222" stroke-width="1" filter="url(#bl05)"/>
<ellipse cx="549" cy="333" rx="47.5" ry="35.5" fill="#3e3e3e" opacity="0.85" filter="url(#bl4)"/>
<ellipse cx="557" cy="339" rx="33.5" ry="25.5" fill="#1e1e1e" filter="url(#bl1)"/>
<ellipse cx="612" cy="374" rx="4" ry="2.5" fill="#2a2a2a" filter="url(#bl1)"/>
<path d="M651.0 334.0 C653.7 334.7 659.5 337.4 661.2 340.1 C662.9 342.8 662.2 346.9 661.2 350.3 C660.2 353.7 658.5 357.3 655.1 360.4 C651.7 363.4 644.5 367.9 640.9 368.6 C637.3 369.3 635.1 366.9 633.7 364.5 C632.3 362.1 632.0 357.9 632.7 354.3 C633.4 350.7 635.8 346.2 637.8 343.1 C639.8 340.1 642.7 337.5 644.9 336.0 C647.1 334.5 648.3 333.3 651.0 334.0Z" fill="#36f423" filter="url(#bl05)"/>
</g>
<linearGradient id="rg3" gradientUnits="userSpaceOnUse" x1="349.1" y1="0" x2="394.1" y2="0"><stop offset="0" stop-color="#4a4a4a"/><stop offset="1" stop-color="#2c2c2c"/></linearGradient>
<clipPath id="fc3"><path d="M509.9 430.2 C498.2 430.6 456.5 432.1 440.0 432.6 C423.5 433.1 419.3 432.2 411.1 433.2 C402.9 434.1 396.9 435.8 390.8 438.3 C384.7 440.9 379.3 444.8 374.6 448.5 C369.9 452.2 365.8 456.0 362.4 460.7 C359.0 465.4 356.1 471.8 354.2 476.9 C352.3 482.0 352.0 486.7 351.2 491.1 C350.4 495.5 348.6 500.2 349.1 503.3 C349.6 506.4 351.6 507.4 354.2 509.4 C356.8 511.4 360.0 513.5 364.4 515.5 C368.8 517.5 374.6 519.9 380.7 521.6 C386.8 523.3 394.2 524.7 401.0 525.7 C407.8 526.7 414.8 527.2 421.3 527.7 C427.8 528.2 425.2 528.1 440.0 528.7 C454.8 529.3 498.2 531.0 509.9 531.5 Z"/></clipPath>
<g clip-path="url(#fc3)">
<path d="M509.9 430.2 C498.2 430.6 456.5 432.1 440.0 432.6 C423.5 433.1 419.3 432.2 411.1 433.2 C402.9 434.1 396.9 435.8 390.8 438.3 C384.7 440.9 379.3 444.8 374.6 448.5 C369.9 452.2 365.8 456.0 362.4 460.7 C359.0 465.4 356.1 471.8 354.2 476.9 C352.3 482.0 352.0 486.7 351.2 491.1 C350.4 495.5 348.6 500.2 349.1 503.3 C349.6 506.4 351.6 507.4 354.2 509.4 C356.8 511.4 360.0 513.5 364.4 515.5 C368.8 517.5 374.6 519.9 380.7 521.6 C386.8 523.3 394.2 524.7 401.0 525.7 C407.8 526.7 414.8 527.2 421.3 527.7 C427.8 528.2 425.2 528.1 440.0 528.7 C454.8 529.3 498.2 531.0 509.9 531.5 Z" fill="#a2a2a2"/>
<ellipse cx="447" cy="455" rx="28" ry="13" fill="#d2d2d2" opacity="1" filter="url(#bl4)"/>
<ellipse cx="492" cy="452" rx="22" ry="11" fill="#e4e4e4" opacity="1" filter="url(#bl4)"/>
<ellipse cx="500" cy="521" rx="13" ry="9" fill="#dcdcdc" opacity="1" filter="url(#bl4)"/>
<ellipse cx="432" cy="505" rx="22" ry="11" fill="#c2c2c2" opacity="0.9" filter="url(#bl4)"/>
<ellipse cx="395" cy="516" rx="20" ry="6" fill="#b8b8b8" opacity="0.8" filter="url(#bl4)"/>
<ellipse cx="420" cy="440" rx="14" ry="5" fill="#333" opacity="0.6" filter="url(#bl3)"/>
<ellipse cx="425" cy="508" rx="30" ry="9" fill="#8a8a8a" opacity="0.5" filter="url(#bl3)"/>
<ellipse cx="506" cy="527" rx="24" ry="12" fill="#c6c6c6" stroke="#4a4a4a" stroke-width="2.2" filter="url(#bl1)"/>
<rect x="349.1" y="430.2" width="160.8" height="101.3" filter="url(#noise)" opacity="0.3" style="mix-blend-mode:overlay"/>
<path d="M470.0 468.0 C473.3 466.8 483.3 463.0 490.0 461.0 C496.7 459.0 506.7 456.8 510.0 456.0" fill="none" stroke="#f4f4f4" stroke-width="3" filter="url(#bl1)"/>
<path d="M509.9 430.2 C498.2 430.6 456.5 432.1 440.0 432.6 C423.5 433.1 419.3 432.2 411.1 433.2 C402.9 434.1 396.9 435.8 390.8 438.3 C384.7 440.9 379.3 444.8 374.6 448.5 C369.9 452.2 365.8 456.0 362.4 460.7 C359.0 465.4 356.1 471.8 354.2 476.9 C352.3 482.0 352.0 486.7 351.2 491.1 C350.4 495.5 349.5 501.3 349.1 503.3" fill="none" stroke="url(#rg3)" stroke-width="20" filter="url(#bl2)"/>
<path d="M349.1 503.3 C350.0 504.3 351.6 507.4 354.2 509.4 C356.8 511.4 360.0 513.5 364.4 515.5 C368.8 517.5 374.6 519.9 380.7 521.6 C386.8 523.3 394.2 524.7 401.0 525.7 C407.8 526.7 414.8 527.2 421.3 527.7 C427.8 528.2 425.2 528.1 440.0 528.7 C454.8 529.3 498.2 531.0 509.9 531.5" fill="none" stroke="#555" stroke-width="4" filter="url(#bl1)"/>
<path d="M418.0 482.0 C423.3 481.2 439.7 479.0 450.0 477.0 C460.3 475.0 469.8 472.1 480.0 470.0 C490.2 467.9 505.8 465.4 511.0 464.5 L511.0 481.0 C505.8 481.7 490.2 483.5 480.0 485.0 C469.8 486.5 460.3 488.5 450.0 490.0 C439.7 491.5 423.3 493.3 418.0 494.0Z" fill="#2a2a2a" filter="url(#bl15)"/>
<circle cx="455" cy="462" r="12.5" fill="#c6c6c6" stroke="#858585" stroke-width="1.3" filter="url(#bl1)"/>
<circle cx="452.5" cy="465.8" r="4.5" fill="#444" stroke="#222" stroke-width="1" filter="url(#bl05)"/>
<circle cx="445.6" cy="473.4" r="3.2" fill="#444" stroke="#222" stroke-width="1" filter="url(#bl05)"/>
<ellipse cx="381" cy="474.5" rx="47.5" ry="39" fill="#3e3e3e" opacity="0.85" filter="url(#bl4)"/>
<ellipse cx="389" cy="480.5" rx="33.5" ry="29" fill="#1e1e1e" filter="url(#bl1)"/>
<ellipse cx="445" cy="519" rx="6" ry="3.5" fill="#2a2a2a" filter="url(#bl1)"/>
<path d="M489.2 484.1 C490.7 484.1 493.2 484.6 494.2 487.1 C495.2 489.6 494.8 496.9 495.3 499.3 C495.8 501.7 497.5 499.7 497.3 501.4 C497.1 503.1 495.1 505.6 494.2 509.5 C493.3 513.4 494.4 521.9 492.2 524.8 C490.0 527.7 484.4 526.8 481.0 526.8 C477.6 526.8 473.6 526.7 471.9 524.8 C470.2 522.9 470.2 519.9 470.9 515.6 C471.6 511.4 474.2 502.7 475.9 499.3 C477.6 495.9 479.5 497.3 481.0 495.3 C482.5 493.3 483.7 489.0 485.1 487.1 C486.5 485.2 487.7 484.1 489.2 484.1Z" fill="#36f423" filter="url(#bl05)"/>
</g>
<linearGradient id="rg4" gradientUnits="userSpaceOnUse" x1="521.2" y1="0" x2="566.2" y2="0"><stop offset="0" stop-color="#5a5a5a"/><stop offset="1" stop-color="#454545"/></linearGradient>
<clipPath id="fc4"><path d="M681.5 432.2 C669.6 432.0 626.7 431.4 610.0 431.2 C593.3 431.0 589.3 430.5 581.1 431.2 C572.9 431.9 566.9 433.0 560.8 435.2 C554.7 437.4 549.3 440.8 544.6 444.4 C539.9 448.0 535.6 452.2 532.4 456.6 C529.2 461.0 526.9 465.7 525.2 470.8 C523.5 475.9 522.9 481.3 522.2 487.1 C521.5 492.9 520.2 501.7 521.2 505.4 C522.2 509.1 525.1 507.7 528.3 509.4 C531.5 511.1 535.1 513.5 540.5 515.5 C545.9 517.5 554.0 520.1 560.8 521.6 C567.6 523.1 572.9 524.0 581.1 524.7 C589.3 525.4 593.3 524.3 610.0 525.7 C626.7 527.1 669.6 531.7 681.5 532.9 Z"/></clipPath>
<g clip-path="url(#fc4)">
<path d="M681.5 432.2 C669.6 432.0 626.7 431.4 610.0 431.2 C593.3 431.0 589.3 430.5 581.1 431.2 C572.9 431.9 566.9 433.0 560.8 435.2 C554.7 437.4 549.3 440.8 544.6 444.4 C539.9 448.0 535.6 452.2 532.4 456.6 C529.2 461.0 526.9 465.7 525.2 470.8 C523.5 475.9 522.9 481.3 522.2 487.1 C521.5 492.9 520.2 501.7 521.2 505.4 C522.2 509.1 525.1 507.7 528.3 509.4 C531.5 511.1 535.1 513.5 540.5 515.5 C545.9 517.5 554.0 520.1 560.8 521.6 C567.6 523.1 572.9 524.0 581.1 524.7 C589.3 525.4 593.3 524.3 610.0 525.7 C626.7 527.1 669.6 531.7 681.5 532.9 Z" fill="#858585"/>
<ellipse cx="627" cy="455" rx="28" ry="12" fill="#a0a0a0" opacity="1" filter="url(#bl4)"/>
<ellipse cx="665" cy="452" rx="20" ry="10" fill="#a8a8a8" opacity="1" filter="url(#bl4)"/>
<ellipse cx="670" cy="520" rx="14" ry="10" fill="#a4a4a4" opacity="1" filter="url(#bl4)"/>
<ellipse cx="605" cy="505" rx="24" ry="11" fill="#959595" opacity="0.9" filter="url(#bl4)"/>
<ellipse cx="560" cy="445" rx="30" ry="10" fill="#555" opacity="0.6" filter="url(#bl3)"/>
<ellipse cx="600" cy="505" rx="30" ry="9" fill="#6e6e6e" opacity="0.5" filter="url(#bl3)"/>
<ellipse cx="678" cy="524" rx="26" ry="12" fill="#a8a8a8" stroke="#4a4a4a" stroke-width="2.2" filter="url(#bl1)"/>
<rect x="521.2" y="431.2" width="160.3" height="101.7" filter="url(#noise)" opacity="0.3" style="mix-blend-mode:overlay"/>
<path d="M681.5 432.2 C669.6 432.0 626.7 431.4 610.0 431.2 C593.3 431.0 589.3 430.5 581.1 431.2 C572.9 431.9 566.9 433.0 560.8 435.2 C554.7 437.4 549.3 440.8 544.6 444.4 C539.9 448.0 535.6 452.2 532.4 456.6 C529.2 461.0 526.9 465.7 525.2 470.8 C523.5 475.9 522.9 481.3 522.2 487.1 C521.5 492.9 521.4 502.3 521.2 505.4" fill="none" stroke="url(#rg4)" stroke-width="14" filter="url(#bl2)"/>
<path d="M521.2 505.4 C522.4 506.1 525.1 507.7 528.3 509.4 C531.5 511.1 535.1 513.5 540.5 515.5 C545.9 517.5 554.0 520.1 560.8 521.6 C567.6 523.1 572.9 524.0 581.1 524.7 C589.3 525.4 593.3 524.3 610.0 525.7 C626.7 527.1 669.6 531.7 681.5 532.9" fill="none" stroke="#555" stroke-width="4" filter="url(#bl1)"/>
<path d="M596.0 481.0 C600.0 480.5 611.0 479.5 620.0 478.0 C629.0 476.5 639.7 473.6 650.0 472.0 C660.3 470.4 676.7 469.1 682.0 468.5 L682.0 487.0 C676.7 487.2 660.3 487.5 650.0 488.0 C639.7 488.5 629.0 489.3 620.0 490.0 C611.0 490.7 600.0 491.7 596.0 492.0Z" fill="#333" filter="url(#bl15)"/>
<circle cx="624.6" cy="466.8" r="13.5" fill="#9e9e9e" stroke="#858585" stroke-width="1.3" filter="url(#bl1)"/>
<circle cx="627" cy="469.3" r="4" fill="#444" stroke="#222" stroke-width="1" filter="url(#bl05)"/>
<circle cx="620" cy="474.5" r="3" fill="#444" stroke="#222" stroke-width="1" filter="url(#bl05)"/>
<ellipse cx="563.5" cy="473.5" rx="42.5" ry="34.5" fill="#383838" opacity="0.85" filter="url(#bl4)"/>
<ellipse cx="571.5" cy="479.5" rx="28.5" ry="24.5" fill="#1e1e1e" filter="url(#bl1)"/>
<ellipse cx="614" cy="518" rx="6" ry="3" fill="#2a2a2a" filter="url(#bl1)"/>
<path d="M651.0 478.0 C654.4 477.6 662.6 480.1 665.3 483.0 C668.0 485.9 668.3 491.2 667.3 495.3 C666.3 499.4 662.9 504.3 659.2 507.5 C655.5 510.7 648.5 514.6 644.9 514.6 C641.3 514.6 638.8 511.1 637.8 507.5 C636.8 503.9 637.6 496.9 638.8 493.2 C640.0 489.5 642.9 487.6 644.9 485.1 C646.9 482.6 647.6 478.4 651.0 478.0Z" fill="#48f03e" opacity="0.55" filter="url(#bl3)"/>
<path d="M651.0 478.0 C654.4 477.6 662.6 480.1 665.3 483.0 C668.0 485.9 668.3 491.2 667.3 495.3 C666.3 499.4 662.9 504.3 659.2 507.5 C655.5 510.7 648.5 514.6 644.9 514.6 C641.3 514.6 638.8 511.1 637.8 507.5 C636.8 503.9 637.6 496.9 638.8 493.2 C640.0 489.5 642.9 487.6 644.9 485.1 C646.9 482.6 647.6 478.4 651.0 478.0Z" fill="#48f03e" filter="url(#bl15)"/>
</g>
<text x="509.8" y="408" font-size="16.5" font-weight="bold" text-anchor="end" fill="#000" letter-spacing="1">Control (DMSO)</text>
<text x="683.5" y="411" font-size="16.5" font-weight="bold" text-anchor="end" fill="#000" letter-spacing="1">11, 50 µM</text>
<text x="511" y="556" font-size="16.5" font-weight="bold" text-anchor="end" fill="#000" letter-spacing="1">24, 50 µM</text>
<text x="683.3" y="556" font-size="16.5" font-weight="bold" text-anchor="end" fill="#000" letter-spacing="1" word-spacing="1.8">HHQ, 2.5 µM</text>
</svg>
</body></html>
